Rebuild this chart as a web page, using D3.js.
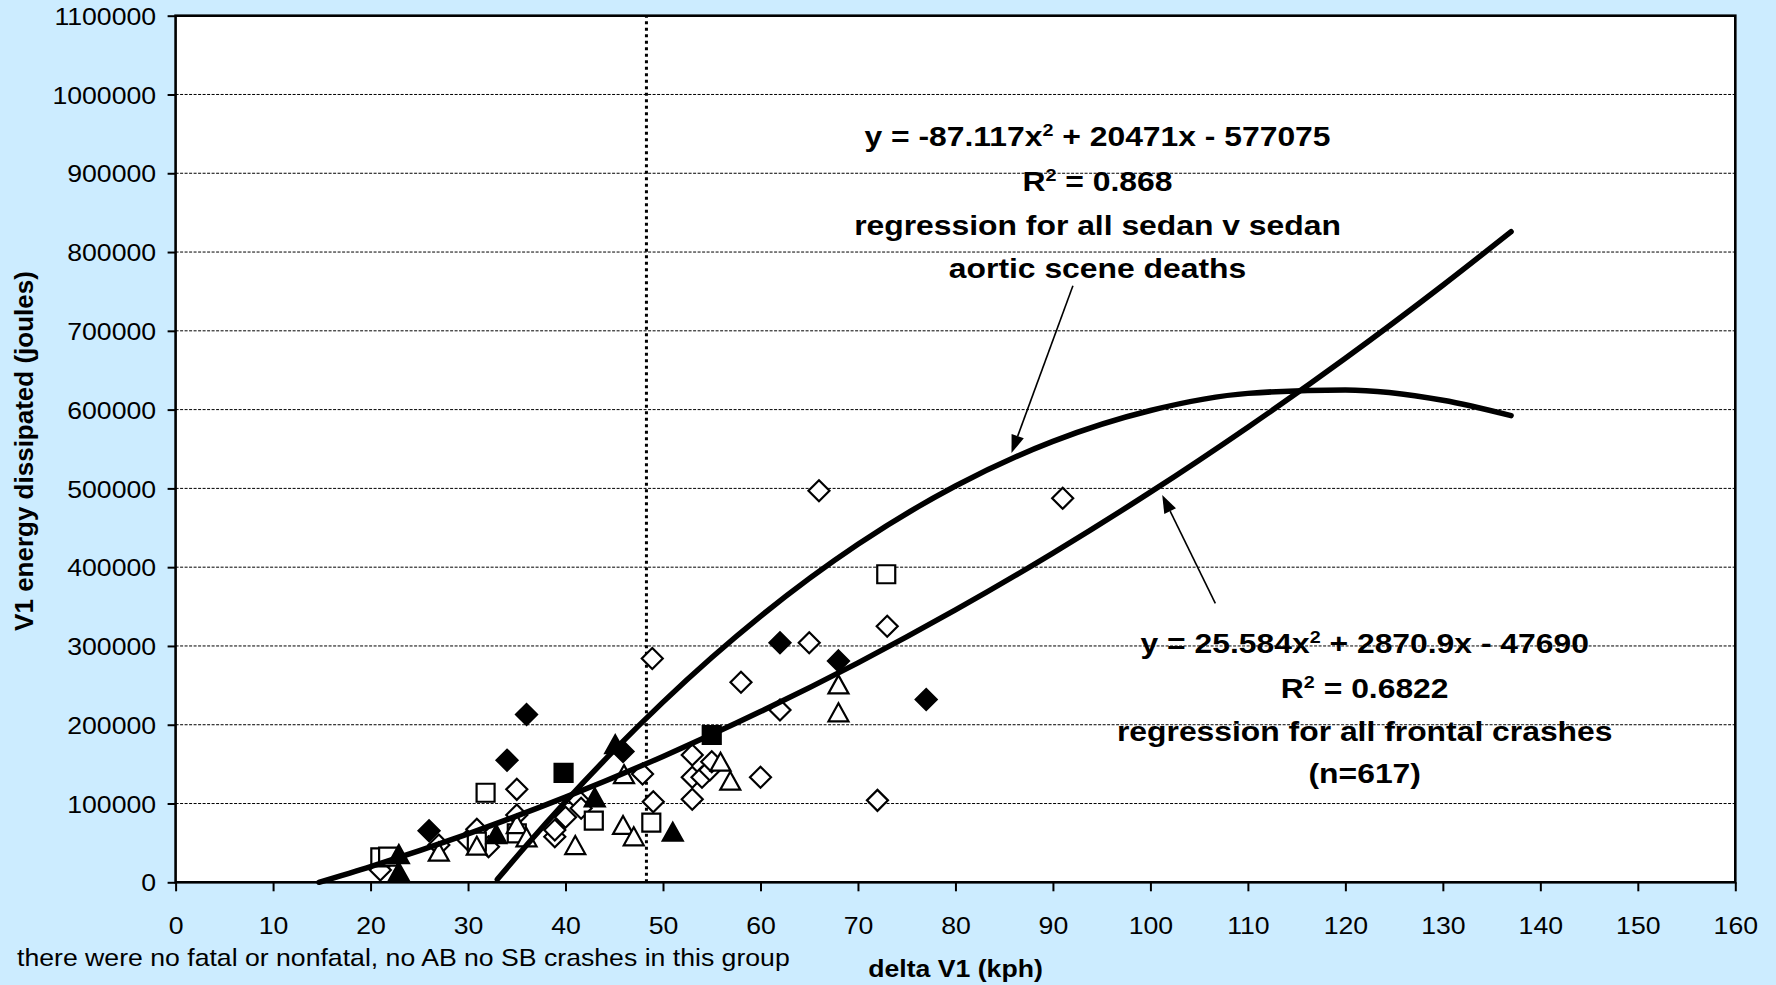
<!DOCTYPE html>
<html><head><meta charset="utf-8">
<script src="https://cdn.jsdelivr.net/npm/d3@7"></script>
<style>html,body{margin:0;padding:0;background:#CCECFF;} svg{display:block;}</style>
</head><body><svg id="c" width="1776" height="985"></svg>
<script>
// ---------------- data ----------------
const xTicks = [0,10,20,30,40,50,60,70,80,90,100,110,120,130,140,150,160];
const yTicks = [0,100000,200000,300000,400000,500000,600000,700000,800000,900000,1000000,1100000];

const openDiamond = [[21,15600],[27,47300],[30,53700],[30.9,67300],[32.1,45200],[35,118000],[35,85400],
  [38.9,57900],[38.9,66400],[40,82500],[41.3,104500],[41.6,94000],[47.9,137500],[49,102300],[48.9,284000],
  [53,161600],[53,133300],[53,105400],[54,133300],[54.8,142600],[55,153000],[58,254000],[60,133300],
  [62,218700],[65,304000],[66,497000],[72,104000],[73,325000],[91,487400]];
const filledDiamond = [[26,65500],[34,155000],[36,213000],[45.9,166000],[62,304000],[68,281000],[77,232000]];
const openSquare = [[21,31700],[21.8,32500],[30.9,51500],[31.8,113700],[35,62200],[42.9,78200],[48.8,75700],[72.9,391000]];
const filledSquare = [[39.8,139000],[55,187000]];
const openTriangle = [[27,37600],[30.9,45200],[35,72700],[36,55800],[41,46000],[45.9,71500],[46,136000],
  [47,57100],[55.9,151800],[56.9,127700],[68,250000],[68,214500]];
const filledTriangle = [[22.9,34600],[22.9,12200],[32.9,60000],[43,106600],[45.1,174000],[51,63000]];

// trendline readings (sedan v sedan aortic scene deaths / all frontal crashes)
const sedanCurve = [[33,3600],[36,47000],[40,102400],[45,167700],[50,228700],[55,285300],[60,337600],
  [70,429000],[80,503100],[90,559700],[100,598900],[110,620600],[120,625000],[130,611900],[137,592400]];
const frontalCurve = [[14.7,0],[20,20000],[30,61500],[40,108100],[50,159800],[60,216700],[70,278600],
  [80,345700],[90,417900],[100,495200],[110,577700],[120,665200],[130,757900],[137,825800]];

const dottedLineX = 48.3;

const annotSedan = ["y = -87.117x^2 + 20471x - 577075","R^2 = 0.868","regression for all sedan v sedan","aortic scene deaths"];
const annotFrontal = ["y = 25.584x^2 + 2870.9x - 47690","R^2 = 0.6822","regression for all frontal crashes","(n=617)"];
const xTitle = "delta V1 (kph)";
const yTitle = "V1 energy dissipated (joules)";
const footnote = "there were no fatal or nonfatal, no AB no SB crashes in this group";

// ---------------- layout ----------------
const FONT = "'Liberation Sans', Arial, Helvetica, sans-serif";
const SX = 1.11; // horizontal stretch of the original rendering
const FS = 24;
const L = 175.6, R = 1735.3, T = 15.7, B = 882.3;
const svg = d3.select("#c");
const x = d3.scaleLinear().domain([0,160]).range([L,R]);
const y = d3.scaleLinear().domain([0,1100000]).range([B,T]);

svg.append("rect").attr("width",1776).attr("height",985).attr("fill","#CCECFF");
svg.append("rect").attr("x",L).attr("y",T).attr("width",R-L).attr("height",B-T).attr("fill","#fff");

// gridlines
svg.append("g").selectAll("line").data(yTicks.filter(v=>v>0 && v<1100000)).join("line")
  .attr("x1",L).attr("x2",R).attr("y1",d=>y(d)).attr("y2",d=>y(d))
  .attr("stroke","#000").attr("stroke-width",1).attr("stroke-dasharray","3,1.5");

// vertical dotted line
svg.append("line").attr("x1",x(dottedLineX)).attr("x2",x(dottedLineX)).attr("y1",y(0)).attr("y2",y(1100000))
  .attr("stroke","#000").attr("stroke-width",3).attr("stroke-dasharray","3,3.5");

// text helper with superscript support
function sText(parent, px, py, str, size, weight, anchor, sx){
  const g = parent.append("g").attr("transform",`translate(${px},${py}) scale(${sx},1)`);
  const t = g.append("text").attr("text-anchor",anchor).attr("font-family",FONT)
    .attr("font-size",size).attr("font-weight",weight).attr("fill","#000");
  const parts = str.split("^2");
  const rise = size*0.38;
  parts.forEach((p,i)=>{
    const ts = t.append("tspan").text(p);
    if(i>0) ts.attr("dy",rise);
    if(i<parts.length-1) t.append("tspan").attr("font-size",size*0.62).attr("dy",-rise).text("2");
  });
  return t;
}

// axes
const yAxis = svg.append("g").attr("transform",`translate(${L},0)`)
  .call(d3.axisLeft(y).tickValues(yTicks).tickSize(8).tickSizeOuter(0).tickFormat(d=>String(d)));
const xAxis = svg.append("g").attr("transform",`translate(0,${B})`)
  .call(d3.axisBottom(x).tickValues(xTicks).tickSize(9).tickSizeOuter(0).tickFormat(d=>String(d)));
[yAxis,xAxis].forEach(a=>{
  a.select(".domain").remove();
  a.selectAll(".tick line").attr("stroke","#000").attr("stroke-width",2);
  a.selectAll("text").attr("font-family",FONT).attr("font-size",FS).attr("fill","#000");
});
yAxis.selectAll("text").attr("x",-19.5/SX).attr("dy","0.36em").attr("transform",`scale(${SX},1)`);
xAxis.selectAll(".tick text").attr("y",51.5).attr("dy",0).attr("transform",`scale(${SX},1)`);

// markers
const shapes = {
  diamond: "M0,-10.5L10.5,0L0,10.5L-10.5,0Z",
  square: "M-9,-9H9V9H-9Z",
  triangle: "M0,-10L10,8L-10,8Z"
};
function drawMarkers(data, shape, filled){
  svg.append("g").selectAll("path").data(data).join("path")
    .attr("d",shapes[shape])
    .attr("transform",d=>`translate(${x(d[0])},${y(d[1])})`)
    .attr("fill",filled?"#000":"#fff").attr("stroke","#000").attr("stroke-width",2.2);
}
drawMarkers(openDiamond,"diamond",false);
drawMarkers(openSquare,"square",false);
drawMarkers(openTriangle,"triangle",false);
drawMarkers(filledDiamond,"diamond",true);
drawMarkers(filledSquare,"square",true);
drawMarkers(filledTriangle,"triangle",true);

// trendlines
const line = d3.line().x(d=>x(d[0])).y(d=>y(d[1])).curve(d3.curveMonotoneX);
[sedanCurve,frontalCurve].forEach(c=>{
  svg.append("path").attr("d",line(c)).attr("fill","none").attr("stroke","#000")
    .attr("stroke-width",5.5).attr("stroke-linecap","round").attr("stroke-linejoin","round");
});

// annotations
const annGroup = svg.append("g");
const ann1Base = [146,191,235,278];
annotSedan.forEach((s,i)=>sText(annGroup,1097.5,ann1Base[i],s,27,"bold","middle",1.18));
const ann2Base = [653,698,741,783];
annotFrontal.forEach((s,i)=>sText(annGroup,1364.7,ann2Base[i],s,27,"bold","middle",1.18));

function arrow(from,to){
  const x0=x(from[0]), y0=y(from[1]), x1=x(to[0]), y1=y(to[1]);
  const ang=Math.atan2(y1-y0,x1-x0), len=18, hw=6.5;
  const bx=x1-len*Math.cos(ang), by=y1-len*Math.sin(ang);
  svg.append("line").attr("x1",x0).attr("y1",y0).attr("x2",bx).attr("y2",by)
    .attr("stroke","#000").attr("stroke-width",1.6);
  const px=-Math.sin(ang)*hw, py=Math.cos(ang)*hw;
  svg.append("path").attr("d",`M${x1},${y1}L${bx+px},${by+py}L${bx-px},${by-py}Z`).attr("fill","#000");
}
arrow([92.05,757300],[85.75,544900]);
arrow([106.66,354100],[101.21,491600]);

// plot frame
svg.append("rect").attr("x",L).attr("y",T).attr("width",R-L).attr("height",B-T)
  .attr("fill","none").attr("stroke","#000").attr("stroke-width",2.6);

// titles
sText(svg,955.5,977,xTitle,FS,"bold","middle",SX);
sText(svg,17,966,footnote,FS,"normal","start",SX);
svg.append("text").attr("transform","translate(33,451) rotate(-90)").attr("text-anchor","middle")
  .attr("font-family",FONT).attr("font-size",26).attr("font-weight","bold").attr("fill","#000").text(yTitle);
</script></body></html>
